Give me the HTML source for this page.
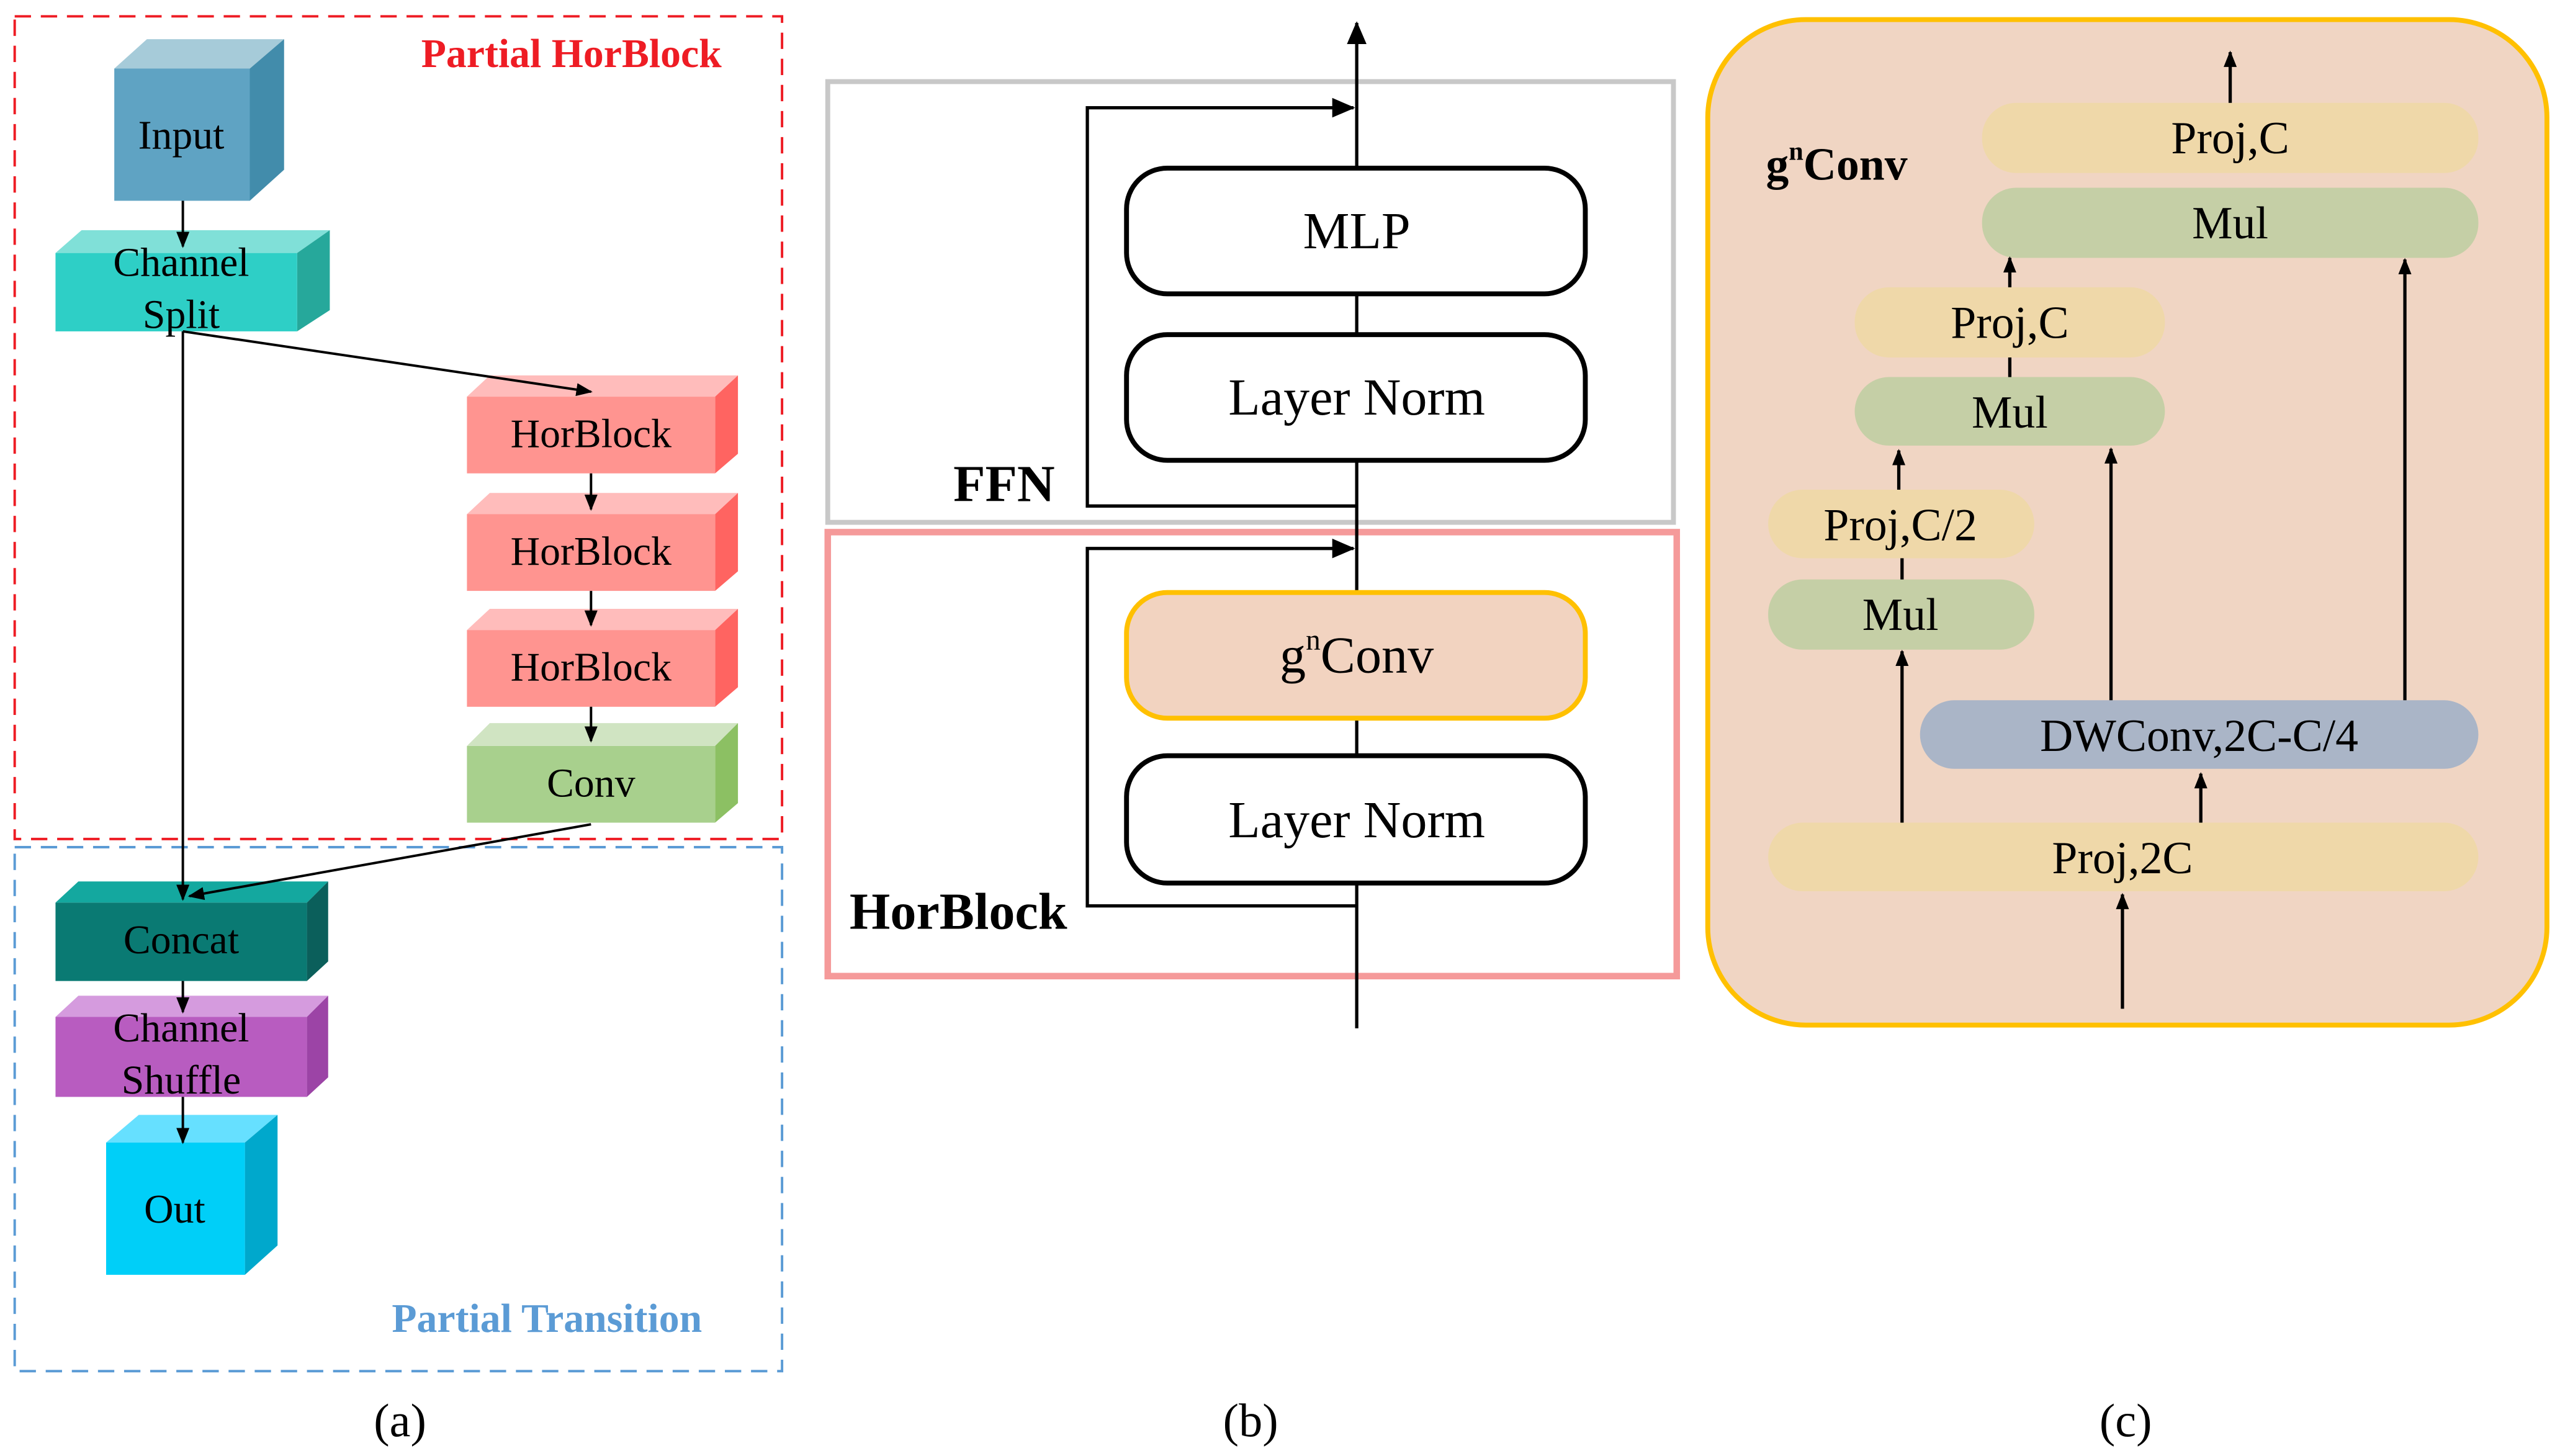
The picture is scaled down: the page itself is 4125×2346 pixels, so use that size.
<!DOCTYPE html>
<html><head><meta charset="utf-8"><style>html,body{margin:0;padding:0;background:#fff}svg{display:block}svg text{font-family:"Liberation Serif","DejaVu Serif",serif}</style></head><body>
<svg width="4125" height="2346" viewBox="0 0 1568 892" preserveAspectRatio="none" xmlns="http://www.w3.org/2000/svg" font-family="Liberation Serif, DejaVu Serif, serif">
<defs>
<marker id="ar" markerWidth="10" markerHeight="10" refX="9" refY="5" orient="auto" markerUnits="userSpaceOnUse"><path d="M0,1 L10,5 L0,9 z" fill="#000"/></marker>
<marker id="ar2" markerWidth="14" markerHeight="14" refX="13" refY="7" orient="auto" markerUnits="userSpaceOnUse"><path d="M0,1 L14,7 L0,13 z" fill="#000"/></marker>
</defs>
<rect width="1568" height="892" fill="#fff"/>
<rect x="9" y="10" width="470" height="504" fill="none" stroke="#ee1c24" stroke-width="1.5" stroke-dasharray="10,6"/>
<rect x="9" y="519" width="470" height="321" fill="none" stroke="#5b9bd5" stroke-width="1.5" stroke-dasharray="10,6"/>
<text x="350" y="41" font-size="25" font-weight="bold" fill="#ee1c24" text-anchor="middle">Partial HorBlock</text>
<text x="335" y="816" font-size="25" font-weight="bold" fill="#5b9bd5" text-anchor="middle">Partial Transition</text>
<polygon points="70,42 90,24 174,24 153,42" fill="#a6cbd9"/><polygon points="153,42 174,24 174,104 153,123" fill="#428cab"/><rect x="70" y="42" width="83" height="81" fill="#5fa3c3"/>
<text x="111" y="91" font-size="25" text-anchor="middle">Input</text>
<polygon points="34,155 50,141 202,141 182,155" fill="#80e0d8"/><polygon points="182,155 202,141 202,190 182,203" fill="#26a89b"/><rect x="34" y="155" width="148" height="48" fill="#2ecfc6"/>
<text x="111" y="169" font-size="25" text-anchor="middle">Channel</text><text x="111" y="201" font-size="25" text-anchor="middle">Split</text>
<polygon points="286,243 300,230 452,230 438,243" fill="#ffbcbb"/><polygon points="438,243 452,230 452,278 438,290" fill="#ff6461"/><rect x="286" y="243" width="152" height="47" fill="#ff9490"/>
<text x="362" y="274" font-size="25" text-anchor="middle">HorBlock</text>
<polygon points="286,315 300,302 452,302 438,315" fill="#ffbcbb"/><polygon points="438,315 452,302 452,350 438,362" fill="#ff6461"/><rect x="286" y="315" width="152" height="47" fill="#ff9490"/>
<text x="362" y="346" font-size="25" text-anchor="middle">HorBlock</text>
<polygon points="286,386 300,373 452,373 438,386" fill="#ffbcbb"/><polygon points="438,386 452,373 452,421 438,433" fill="#ff6461"/><rect x="286" y="386" width="152" height="47" fill="#ff9490"/>
<text x="362" y="417" font-size="25" text-anchor="middle">HorBlock</text>
<polygon points="286,457 300,443 452,443 438,457" fill="#d0e4c2"/><polygon points="438,457 452,443 452,492 438,504" fill="#8cc063"/><rect x="286" y="457" width="152" height="47" fill="#a8d08d"/>
<text x="362" y="488" font-size="25" text-anchor="middle">Conv</text>
<polygon points="34,553 48,540 201,540 188,553" fill="#14a89f"/><polygon points="188,553 201,540 201,589 188,601" fill="#0b5f5b"/><rect x="34" y="553" width="154" height="48" fill="#0a7a73"/>
<text x="111" y="584" font-size="25" text-anchor="middle">Concat</text>
<polygon points="34,623 48,610 201,610 188,623" fill="#d59bde"/><polygon points="188,623 201,610 201,660 188,672" fill="#9c44a6"/><rect x="34" y="623" width="154" height="49" fill="#b85cc0"/>
<text x="111" y="638" font-size="25" text-anchor="middle">Channel</text><text x="111" y="670" font-size="25" text-anchor="middle">Shuffle</text>
<polygon points="65,700 85,683 170,683 150,700" fill="#66e0ff"/><polygon points="150,700 170,683 170,763 150,781" fill="#00a8cc"/><rect x="65" y="700" width="85" height="81" fill="#00cff8"/>
<text x="107" y="749" font-size="25" text-anchor="middle">Out</text>
<g stroke="#000" stroke-width="1.5" fill="none">
<line x1="112" y1="123" x2="112" y2="151" marker-end="url(#ar)"/>
<line x1="112" y1="203" x2="362" y2="240" marker-end="url(#ar)"/>
<line x1="112" y1="203" x2="112" y2="551" marker-end="url(#ar)"/>
<line x1="362" y1="290" x2="362" y2="312" marker-end="url(#ar)"/>
<line x1="362" y1="362" x2="362" y2="383" marker-end="url(#ar)"/>
<line x1="362" y1="433" x2="362" y2="454" marker-end="url(#ar)"/>
<line x1="362" y1="505" x2="116" y2="549" marker-end="url(#ar)"/>
<line x1="112" y1="601" x2="112" y2="620" marker-end="url(#ar)"/>
<line x1="112" y1="672" x2="112" y2="700" marker-end="url(#ar)"/>
</g>
<rect x="507" y="50" width="518" height="270" fill="none" stroke="#c8c8c8" stroke-width="3"/>
<rect x="507" y="326" width="520" height="272" fill="none" stroke="#f59a9a" stroke-width="4"/>
<g stroke="#000" stroke-width="2" fill="none">
<line x1="831" y1="630" x2="831" y2="14" marker-end="url(#ar2)"/>
<polyline points="831,310 666,310 666,66 829,66" marker-end="url(#ar2)"/>
<polyline points="831,555 666,555 666,336 829,336" marker-end="url(#ar2)"/>
</g>
<rect x="690" y="103" width="281" height="77" rx="25" fill="#fff" stroke="#000" stroke-width="3"/>
<rect x="690" y="205" width="281" height="77" rx="25" fill="#fff" stroke="#000" stroke-width="3"/>
<rect x="690" y="363" width="281" height="77" rx="25" fill="#f2d3c0" stroke="#ffc000" stroke-width="3"/>
<rect x="690" y="463" width="281" height="78" rx="25" fill="#fff" stroke="#000" stroke-width="3"/>
<text x="831" y="152" font-size="32" text-anchor="middle">MLP</text>
<text x="831" y="254" font-size="32" text-anchor="middle">Layer Norm</text>
<text x="831" y="412" font-size="32" text-anchor="middle">g<tspan font-size="18" dy="-14">n</tspan><tspan dy="14">Conv</tspan></text>
<text x="831" y="513" font-size="32" text-anchor="middle">Layer Norm</text>
<text x="615" y="307" font-size="32" font-weight="bold" text-anchor="middle">FFN</text>
<text x="587" y="569" font-size="32" font-weight="bold" text-anchor="middle">HorBlock</text>
<rect x="1046" y="12" width="514" height="616" rx="60" fill="#f0d5c3" stroke="#ffc000" stroke-width="3"/>
<text x="1125" y="110" font-size="28" font-weight="bold" text-anchor="middle">g<tspan font-size="16" dy="-12">n</tspan><tspan dy="12">Conv</tspan></text>
<g font-size="28" text-anchor="middle">
<rect x="1214" y="63" width="304" height="43" rx="21" fill="#efd8a9"/><text x="1366" y="94">Proj,C</text>
<rect x="1214" y="115" width="304" height="43" rx="21" fill="#c5cfa6"/><text x="1366" y="146">Mul</text>
<rect x="1136" y="176" width="190" height="43" rx="21" fill="#efd8a9"/><text x="1231" y="207">Proj,C</text>
<rect x="1136" y="231" width="190" height="42" rx="21" fill="#c5cfa6"/><text x="1231" y="262">Mul</text>
<rect x="1083" y="300" width="163" height="42" rx="21" fill="#efd8a9"/><text x="1164" y="331">Proj,C/2</text>
<rect x="1083" y="355" width="163" height="43" rx="21" fill="#c5cfa6"/><text x="1164" y="386">Mul</text>
<rect x="1176" y="429" width="342" height="42" rx="21" fill="#aab5c7"/><text x="1347" y="460">DWConv,2C-C/4</text>
<rect x="1083" y="504" width="435" height="42" rx="21" fill="#efd8a9"/><text x="1300" y="535">Proj,2C</text>
</g>
<g stroke="#000" stroke-width="2" fill="none">
<line x1="1300" y1="618" x2="1300" y2="548" marker-end="url(#ar)"/>
<line x1="1348" y1="504" x2="1348" y2="474" marker-end="url(#ar)"/>
<line x1="1165" y1="504" x2="1165" y2="399" marker-end="url(#ar)"/>
<line x1="1293" y1="429" x2="1293" y2="275" marker-end="url(#ar)"/>
<line x1="1473" y1="429" x2="1473" y2="159" marker-end="url(#ar)"/>
<line x1="1163" y1="300" x2="1163" y2="276" marker-end="url(#ar)"/>
<line x1="1231" y1="176" x2="1231" y2="158" marker-end="url(#ar)"/>
<line x1="1366" y1="63" x2="1366" y2="32" marker-end="url(#ar)"/>
<line x1="1165" y1="342" x2="1165" y2="355"/>
<line x1="1231" y1="219" x2="1231" y2="231"/>
</g>
<text x="245" y="880" font-size="29" text-anchor="middle">(a)</text>
<text x="766" y="880" font-size="29" text-anchor="middle">(b)</text>
<text x="1302" y="880" font-size="29" text-anchor="middle">(c)</text>
</svg>
</body></html>
